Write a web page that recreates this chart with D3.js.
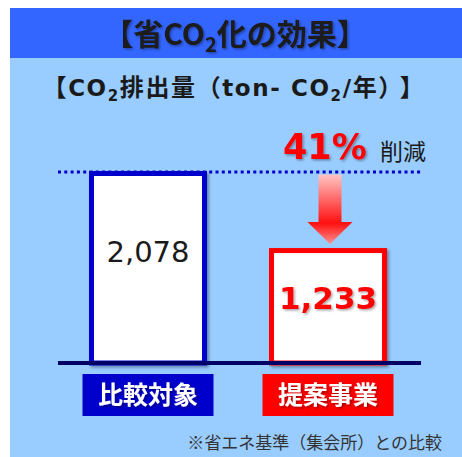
<!DOCTYPE html>
<html><head><meta charset="utf-8">
<script src="https://cdn.jsdelivr.net/npm/d3@7"></script>
<style>
html,body{margin:0;padding:0;background:#fff;}
svg{display:block;}
</style></head>
<body>
<script>
// CO2 emission comparison (ton-CO2 / year)
const categories = ["比較対象", "提案事業"];
const values = [2078, 1233];
const valueLabels = ["2,078", "1,233"];
const reductionLabel = "41%";
const reductionWord = "削減";
const footnote = "※省エネ基準（集会所）との比較";

const W = 462, H = 457;
const JP = "'Noto Sans CJK JP', 'Noto Sans', sans-serif";
const NUM = "Tahoma, 'DejaVu Sans', Verdana, sans-serif";
const LAT = "'DejaVu Sans', Verdana, sans-serif";

const svg = d3.select("body").append("svg").attr("width", W).attr("height", H);
const defs = svg.append("defs");

// soft shadow for bars and text
const sh = defs.append("filter").attr("id", "shadow").attr("x", "-20%").attr("y", "-20%").attr("width", "150%").attr("height", "150%");
sh.append("feDropShadow").attr("dx", 2).attr("dy", 2).attr("stdDeviation", 1.6).attr("flood-color", "#000").attr("flood-opacity", 0.35);
const tsh = defs.append("filter").attr("id", "tshadow").attr("x", "-10%").attr("y", "-20%").attr("width", "130%").attr("height", "150%");
tsh.append("feDropShadow").attr("dx", 1.5).attr("dy", 1.5).attr("stdDeviation", 1).attr("flood-color", "#000").attr("flood-opacity", 0.35);

// arrow gradient
const grad = defs.append("linearGradient").attr("id", "arrowGrad").attr("x1", 0).attr("y1", 0).attr("x2", 0).attr("y2", 1);
grad.append("stop").attr("offset", "0%").attr("stop-color", "#ffc4c4");
grad.append("stop").attr("offset", "70%").attr("stop-color", "#ff1010");
grad.append("stop").attr("offset", "100%").attr("stop-color", "#ff9090");

// panel background
svg.append("rect").attr("x", 10).attr("y", 8).attr("width", W - 10).attr("height", H - 8).attr("fill", "#99ccff");
svg.append("rect").attr("x", 10).attr("y", 8).attr("width", W - 10).attr("height", 50).attr("fill", "#3366ff");

// title
const title = svg.append("text").attr("x", 235).attr("y", 45).attr("text-anchor", "middle")
  .attr("font-family", JP).attr("font-weight", "bold").attr("font-size", 30).attr("fill", "#1a1a1a")
  .attr("filter", "url(#tshadow)");
title.append("tspan").text("【省CO");
title.append("tspan").attr("font-size", 20).attr("dy", 7).text("2");
title.append("tspan").attr("dy", -7).text("化の効果】");

// subtitle: CJK runs in Noto, Latin runs in a wider sans
const sub = svg.append("text").attr("x", 234).attr("y", 96).attr("text-anchor", "middle")
  .attr("font-family", JP).attr("font-weight", "bold").attr("font-size", 24).attr("fill", "#1a1a1a")
  .attr("letter-spacing", 1.6);
sub.append("tspan").text("【");
sub.append("tspan").attr("font-family", LAT).attr("font-size", 23).text("CO");
sub.append("tspan").attr("font-family", LAT).attr("font-size", 15).attr("dy", 5).text("2");
sub.append("tspan").attr("dy", -5).text("排出量（");
sub.append("tspan").attr("font-family", LAT).attr("font-size", 23).text("ton- CO");
sub.append("tspan").attr("font-family", LAT).attr("font-size", 15).attr("dy", 5).text("2");
sub.append("tspan").attr("font-family", LAT).attr("font-size", 23).attr("dy", -5).text("/");
sub.append("tspan").text("年）");
sub.append("tspan").attr("dx", 8).text("】");

// scales
const x = d3.scalePoint().domain(categories).range([58, 418]).padding(0.5);
const y = d3.scaleLinear().domain([0, d3.max(values)]).range([363, 173.5]);
const barW = 113;
const colors = ["#0000cc", "#ff0000"];

// reference dotted line at baseline value
svg.append("line").attr("x1", 58).attr("x2", 421).attr("y1", y(values[0]) - 1.5).attr("y2", y(values[0]) - 1.5)
  .attr("stroke", "#0000cc").attr("stroke-width", 3).attr("stroke-dasharray", "3,3.3");

// bars
svg.selectAll("rect.bar").data(values).join("rect").attr("class", "bar")
  .attr("x", (d, i) => x(categories[i]) - barW / 2)
  .attr("y", d => y(d))
  .attr("width", barW)
  .attr("height", d => y(0) - y(d))
  .attr("fill", "#fff")
  .attr("stroke", (d, i) => colors[i])
  .attr("stroke-width", 5)
  .attr("filter", "url(#shadow)");

// baseline
svg.append("line").attr("x1", 58).attr("x2", 421).attr("y1", y(0)).attr("y2", y(0))
  .attr("stroke", "#000066").attr("stroke-width", 4);

// value labels
svg.append("text").attr("x", x(categories[0])).attr("y", 262).attr("text-anchor", "middle")
  .attr("font-family", NUM).attr("font-size", 29).attr("fill", "#1a1a1a").text(valueLabels[0]);
svg.append("text").attr("x", x(categories[1])).attr("y", 309).attr("text-anchor", "middle")
  .attr("font-family", NUM).attr("font-weight", "bold").attr("font-size", 31).attr("fill", "#ff0000")
  .attr("filter", "url(#tshadow)").text(valueLabels[1]);

// reduction arrow
const ax = x(categories[1]) + 2;
const aTop = y(values[0]) + 1, aNeck = 222, aTip = 244;
svg.append("path")
  .attr("d", `M${ax - 11.5},${aTop} L${ax + 11.5},${aTop} L${ax + 11.5},${aNeck} L${ax + 22.5},${aNeck} L${ax},${aTip} L${ax - 22.5},${aNeck} L${ax - 11.5},${aNeck} Z`)
  .attr("fill", "url(#arrowGrad)");

// reduction text
svg.append("text").attr("x", 283).attr("y", 159)
  .attr("font-family", NUM).attr("font-weight", "bold").attr("font-size", 35).attr("fill", "#ff0000")
  .attr("filter", "url(#tshadow)").text(reductionLabel);
svg.append("text").attr("x", 380).attr("y", 160)
  .attr("font-family", JP).attr("font-size", 23).attr("fill", "#1a1a1a").text(reductionWord);

// category label boxes
const boxW = 131, boxH = 42;
const cats = svg.selectAll("g.cat").data(categories).join("g").attr("class", "cat")
  .attr("transform", d => `translate(${x(d)},374)`);
cats.append("rect").attr("x", -boxW / 2).attr("y", 0).attr("width", boxW).attr("height", boxH)
  .attr("fill", (d, i) => colors[i]);
cats.append("text").attr("x", 0).attr("y", 30).attr("text-anchor", "middle")
  .attr("font-family", JP).attr("font-weight", "bold").attr("font-size", 25).attr("fill", "#fff")
  .attr("filter", "url(#tshadow)").text(d => d);

// footnote
svg.append("text").attr("x", 442).attr("y", 449).attr("text-anchor", "end")
  .attr("font-family", JP).attr("font-size", 17).attr("fill", "#333").text(footnote);
</script>
</body></html>
